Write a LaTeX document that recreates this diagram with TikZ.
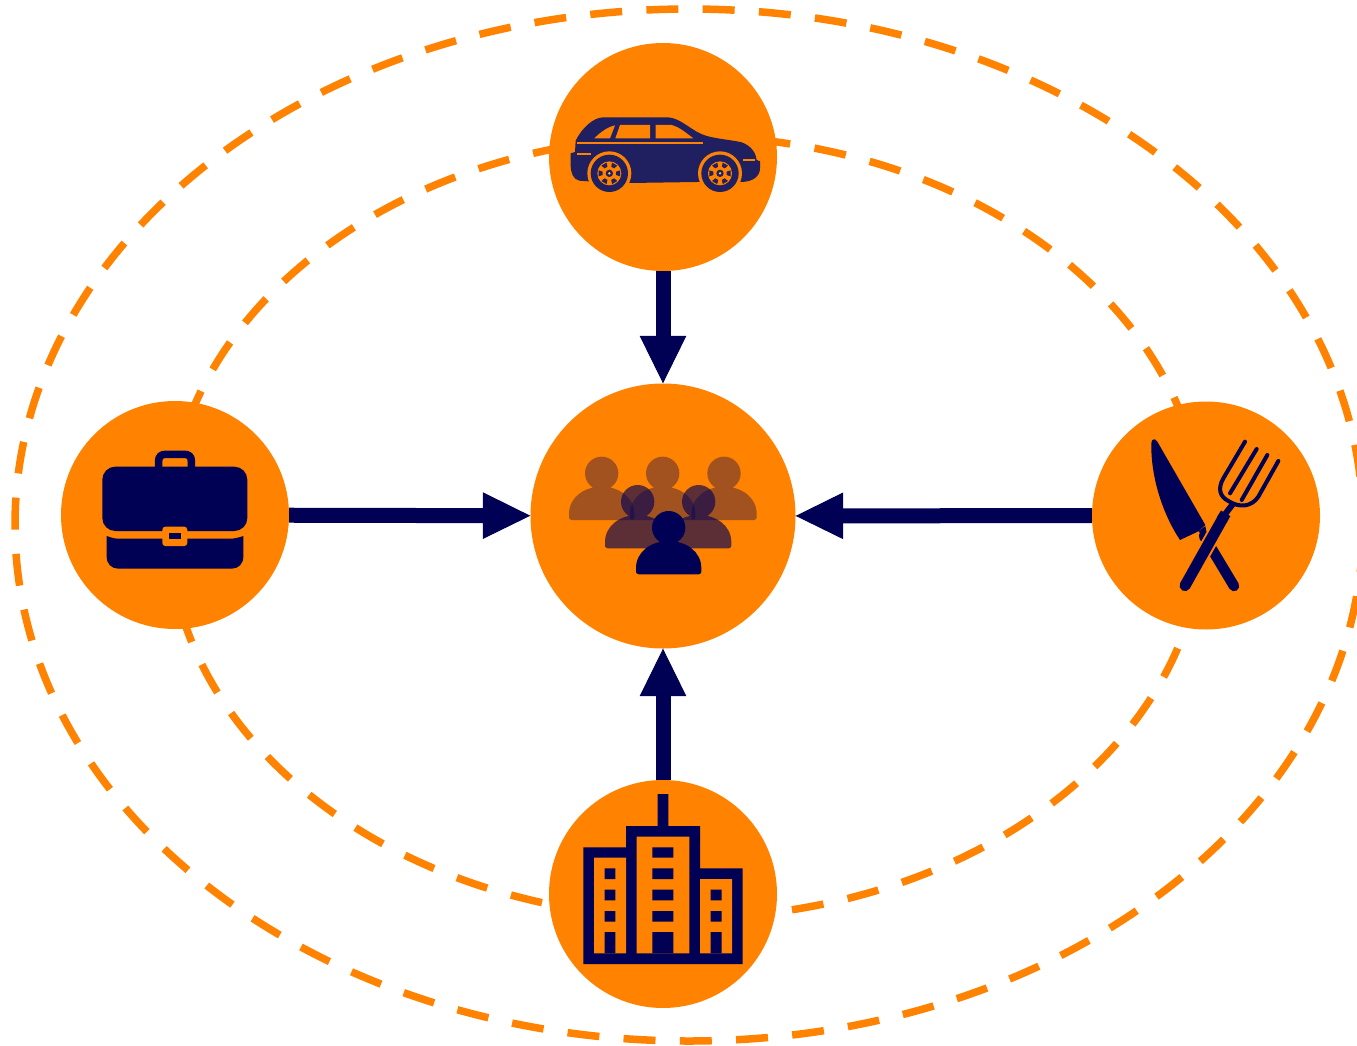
\documentclass[tikz,border=0pt]{standalone}
\usetikzlibrary{arrows.meta}
\definecolor{hub}{HTML}{FF8200}
\definecolor{navy}{HTML}{000055}
\definecolor{carblue}{HTML}{201F60}
\tikzset{
  orbit/.style={draw=hub,line width=7.5pt},
  hubdisc/.style={circle,fill=hub,inner sep=0pt,minimum size=228pt},
  flow/.style={draw=navy,line width=15pt,-{Triangle[length=47.5pt,width=46.5pt,line width=1pt]}},
  zoomed/.style={shift={#1},scale=0.33333},
}
\newcommand{\personicon}[3]{%
  \begin{scope}[shift={(#1,#2)}]
  \fill[navy,fill opacity=#3]
    (-90,140) .. controls (-98,140) and (-98,134) .. (-98,130) -- (-98,122)
    .. controls (-98,70) and (-50,40) .. (0,40)
    .. controls (50,40) and (98,70) .. (98,122) -- (98,130)
    .. controls (98,134) and (98,140) .. (90,140) -- cycle
    (50,0) arc[start angle=0,end angle=360,radius=50];
  \end{scope}}
\newcommand{\wheelicon}[2]{%
  \begin{scope}[shift={(#1,#2)}]
  \fill[hub] (0,0) circle (66);
  \fill[carblue] (0,0) circle (56);
  \fill[hub] (0,0) circle (36);
  \fill[carblue] (0,0) circle (11);
  \foreach \a in {0,60,...,300}{\fill[carblue,rotate=\a] (20,-5) -- (32,-9) -- (32,9) -- (20,5) -- cycle;}
  \fill[hub!60!white] (0,0) circle (4);
  \end{scope}}
\begin{document}
\begin{tikzpicture}[x=1pt,y=-1pt]
\useasboundingbox (0,0) rectangle (1357,1046);
\clip (0,0) rectangle (1357,1046);
% orbits
\draw[orbit,dash pattern=on 32pt off 24.3pt,dash phase=41pt] (689,525) ellipse [x radius=674,y radius=516];
\draw[orbit,dash pattern=on 32pt off 24.7pt,dash phase=45.4pt] (686,527) ellipse [x radius=517,y radius=391];
% discs
\node[hubdisc] (car) at (663,157) {};
\node[hubdisc,minimum size=265pt] (people) at (663,516) {};
\node[hubdisc] (work) at (175,515) {};
\node[hubdisc] (food) at (1206,515.5) {};
\node[hubdisc] (city) at (663,894) {};
% connectors
\draw[flow] (car) -- (people);
\draw[flow] (work) -- (people);
\draw[flow] (food) -- (people);
\draw[flow] (city) -- (people);
% car
\begin{scope}[zoomed={(540,90)}]
\fill[carblue] (92,190) -- (105,186) -- (107,152)
  .. controls (125,115) and (160,82) .. (190,82) -- (385,82)
  .. controls (425,85) and (455,125) .. (500,138)
  .. controls (540,148) and (575,150) .. (605,157)
  .. controls (635,168) and (648,190) .. (650,210) -- (660,214) -- (660,235)
  .. controls (660,258) and (640,275) .. (605,276) -- (470,276) -- (270,279) -- (145,274) -- (118,272)
  .. controls (100,268) and (92,250) .. (92,225) -- cycle;
\fill[hub] (163,145) .. controls (180,128) and (200,112) .. (225,106) -- (210,145) -- cycle;
\fill[hub] (226,145) -- (240,105) -- (330,105) -- (330,145) -- cycle;
\fill[hub] (347,145) -- (347,105) -- (395,105) .. controls (420,112) and (440,130) .. (460,145) -- cycle;
\draw[hub,line width=2pt] (112,160) -- (490,160);
\draw[hub,line width=2pt] (112,193) -- (152,193);
\draw[hub,line width=2pt] (610,211) -- (645,211);
\wheelicon{208}{250}
\wheelicon{540}{250}
\end{scope}
% people
\begin{scope}[zoomed={(550,440)}]
\personicon{155}{100}{0.37}
\personicon{338}{100}{0.37}
\personicon{522}{100}{0.37}
\personicon{263}{185}{0.64}
\personicon{446}{185}{0.64}
\personicon{356}{263}{1}
\end{scope}
% briefcase
\begin{scope}[zoomed={(90,440)}]
\draw[navy,line width=7.5pt] (206,85) -- (206,62) .. controls (206,50) and (214,43) .. (226,43) -- (284,43) .. controls (296,43) and (304,50) .. (304,62) -- (304,85);
\fill[navy,rounded corners=13pt] (37,80) rectangle (472,273);
\fill[navy] (50,288) .. controls (70,295) and (75,296) .. (90,296) -- (420,296) .. controls (435,296) and (445,293) .. (460,288) -- (460,350)
  .. controls (460,372) and (445,386) .. (425,386) -- (85,386) .. controls (65,386) and (50,372) .. (50,350) -- cycle;
\fill[hub,rounded corners=3pt] (217,260) rectangle (292,318);
\fill[navy] (238,280) rectangle (272,298);
\end{scope}
% knife and fork
\begin{scope}[zoomed={(1130,425)}]
\fill[navy] (64,55) .. controls (64,42) and (75,38) .. (82,50) -- (226,300) -- (205,319) -- (150,345)
  .. controls (100,270) and (62,160) .. (64,55) -- cycle;
\fill[navy] (206,318) -- (226,303) -- (230,325) -- (217,338) -- cycle;
\draw[navy,line width=10.5pt,line cap=round] (222,333) -- (312,483);
\draw[hub,line width=15pt] (287,265) -- (165,482);
\draw[navy,line width=11pt,line cap=round] (165,482) -- (280,277);
\draw[navy,line width=11pt] (275,285) -- (287,265);
\draw[navy,line width=6pt] (285,268) -- (310,235);
\draw[navy,line width=4pt,line cap=round] (345,50) -- (280,160) .. controls (262,192) and (270,215) .. (295,228)
  .. controls (330,250) and (365,245) .. (385,215) -- (445,108);
\draw[navy,line width=4pt,line cap=round] (380,72) -- (300,205);
\draw[navy,line width=4pt,line cap=round] (412,90) -- (335,225);
\end{scope}
% city
\begin{scope}[zoomed={(570,785)}]
\fill[navy] (40,537) -- (40,187) -- (168,187) -- (168,123) -- (263,123) -- (263,27) -- (295,27) -- (295,123) -- (390,123) -- (390,250) -- (518,250) -- (518,537) -- cycle;
\fill[hub] (72,218) rectangle (168,505) (200,155) rectangle (358,505) (390,282) rectangle (486,505);
\fill[navy] (104,250) rectangle (136,282) (104,314) rectangle (136,346) (104,378) rectangle (136,410) (104,441) rectangle (136,505);
\fill[navy] (247,187) rectangle (310,218) (247,250) rectangle (310,282) (247,314) rectangle (310,346) (247,378) rectangle (310,410) (247,441) rectangle (310,505);
\fill[navy] (422,314) rectangle (455,346) (422,378) rectangle (455,410) (422,441) rectangle (455,505);
\end{scope}
\end{tikzpicture}
\end{document}
